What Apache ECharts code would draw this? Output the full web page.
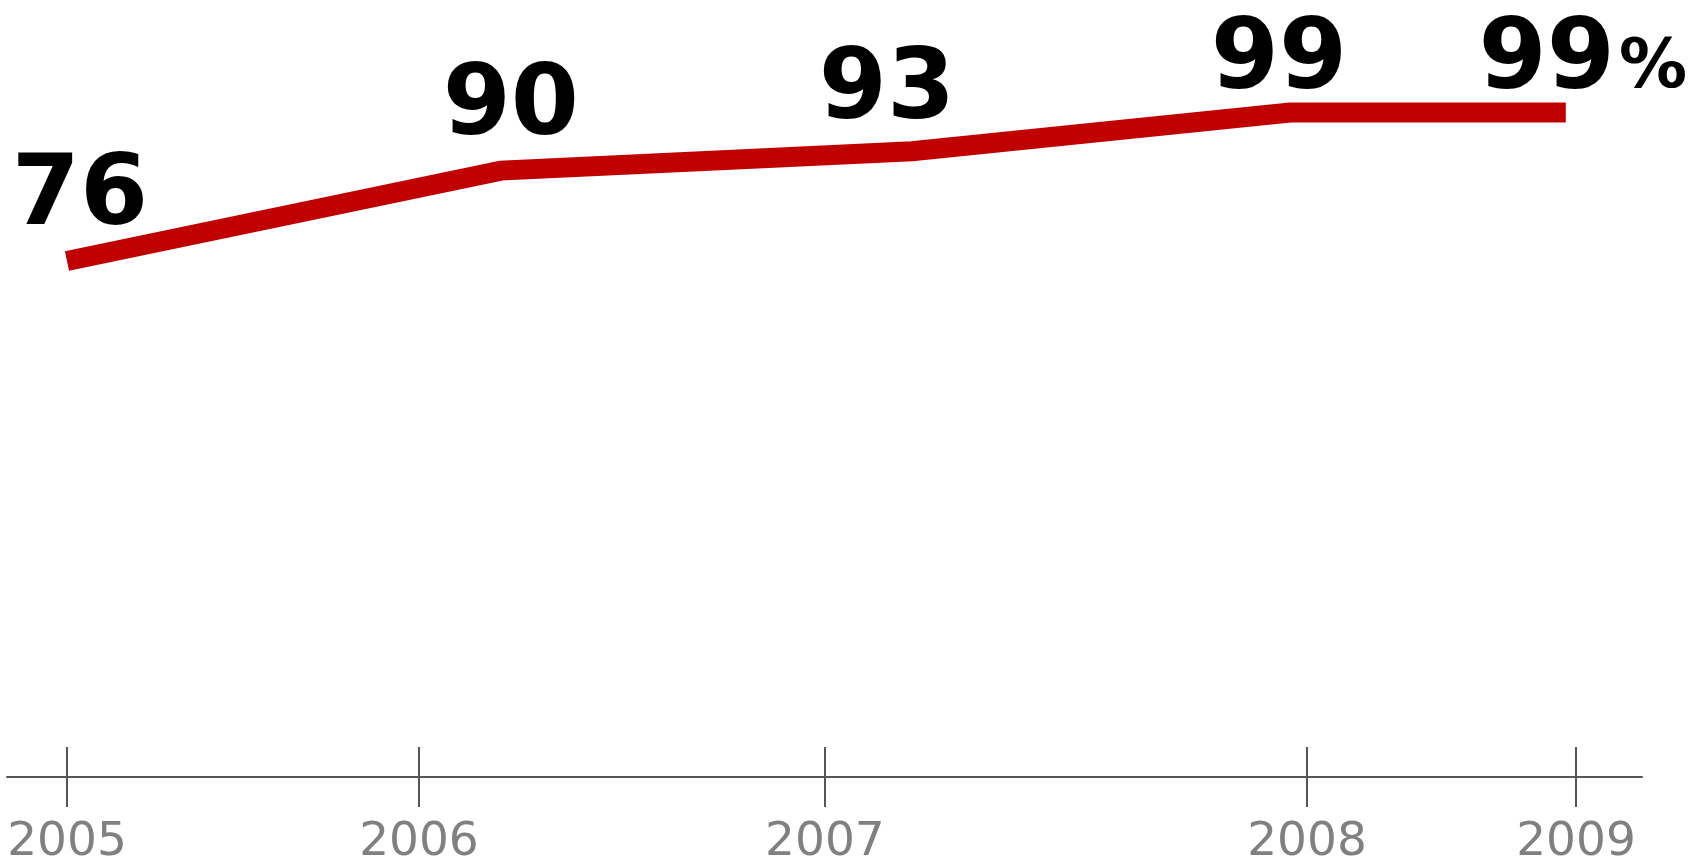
<!DOCTYPE html>
<html>
<head>
<meta charset="utf-8">
<script src="https://cdn.jsdelivr.net/npm/echarts@6/dist/echarts.min.js"></script>
<style>
html,body{margin:0;padding:0;background:#fff;}
#chart{width:1702px;height:861px;}
</style>
</head>
<body>
<div id="chart"></div>
<script>
// Year tick labels and where the drawn ticks sit on the (time) scale
const years = ['2005', '2006', '2007', '2008', '2009'];
const tickPositions = [2005, 2005.933, 2007.009, 2008.287, 2009];
// Where each data point sits on the time scale, and its value (%)
const pointPositions = [2005, 2006.150, 2007.240, 2008.242, 2008.973];
const values = [76, 90, 93, 99, 99];

const FONT = 'DejaVu Sans';
const xMin = 2004.841, xMax = 2009.175;
// label nudges (style only)
const labelOffsets = [[13, -3], [10, -3], [-25, 0], [-11, 9], [17, 9]];

const chart = echarts.init(document.getElementById('chart'), null, {renderer: 'canvas'});

function yearLabel(v) {
  let best = 0, d = Infinity;
  tickPositions.forEach((p, i) => { const dd = Math.abs(p - v); if (dd < d) { d = dd; best = i; } });
  return years[best];
}

const seriesData = pointPositions.map((x, i) => ({
  value: [x, values[i]],
  label: {offset: labelOffsets[i]}
}));

const axisColor = '#555555';

chart.setOption({
  animation: false,
  backgroundColor: '#ffffff',
  grid: {left: 7, right: 60, top: 106, bottom: 84, containLabel: false, outerBoundsMode: 'none'},
  xAxis: [{
    type: 'value', min: xMin, max: xMax, position: 'bottom',
    splitLine: {show: false},
    axisLine: {show: true, onZero: false, lineStyle: {color: axisColor, width: 2}},
    axisTick: {show: true, customValues: tickPositions, length: 30, lineStyle: {color: axisColor, width: 2}},
    axisLabel: {show: true, customValues: tickPositions, formatter: yearLabel, margin: 42,
      color: '#808080', fontFamily: FONT, fontSize: 47}
  }, {
    type: 'value', min: xMin, max: xMax, position: 'bottom',
    splitLine: {show: false},
    axisLine: {show: false, onZero: false},
    axisTick: {show: true, inside: true, customValues: tickPositions, length: 30, lineStyle: {color: axisColor, width: 2}},
    axisLabel: {show: false}
  }],
  yAxis: {
    type: 'value', min: -3.87, max: 100, show: false, splitLine: {show: false}
  },
  series: [{
    type: 'line',
    data: seriesData,
    clip: false,
    symbol: 'circle', symbolSize: 0.1, showSymbol: true,
    itemStyle: {color: '#c00000'},
    lineStyle: {color: '#c00000', width: 20, cap: 'butt', join: 'miter'},
    label: {
      show: true, position: 'top', distance: 10,
      formatter: p => p.dataIndex === values.length - 1 ? '{v|' + values[p.dataIndex] + '}{p|%}' : '{v|' + values[p.dataIndex] + '}',
      rich: {
        v: {fontFamily: FONT, fontWeight: 'bold', fontSize: 98, color: '#000', verticalAlign: 'bottom'},
        p: {fontFamily: FONT, fontWeight: 'bold', fontSize: 68, color: '#000', verticalAlign: 'bottom', padding: [0, 0, 8, 4]}
      },
      fontFamily: FONT, fontWeight: 'bold', fontSize: 98, color: '#000'
    },
    emphasis: {disabled: true}
  }]
});
</script>
</body>
</html>
